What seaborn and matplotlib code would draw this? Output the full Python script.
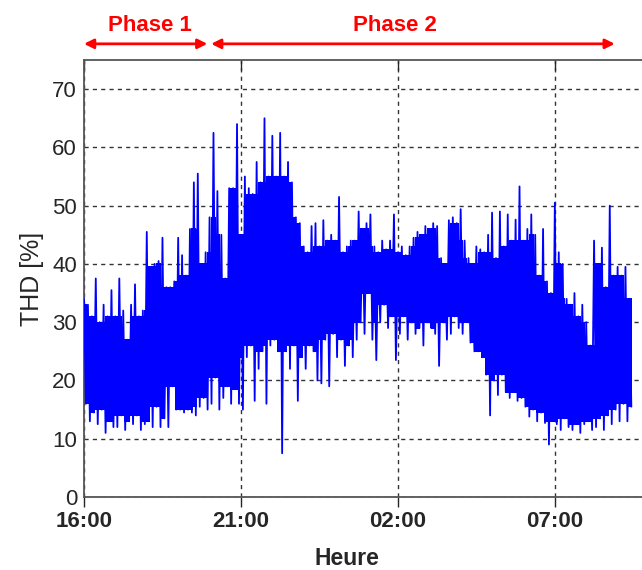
import numpy as np
import pandas as pd
import matplotlib
matplotlib.use('Agg')
import matplotlib.pyplot as plt
import seaborn as sns

# heures depuis 16:00, un relevé haut / bas tous les 7,5 min
T_DEBUT = 0.0
PAS = 0.125

thd_haut = [
    34, 33, 31, 37.5, 30, 33, 31, 35.5,
    31, 37.5, 32, 27, 33, 36.5, 31, 32,
    45.5, 39.5, 40, 40.5, 44.5, 36, 36, 37,
    44.5, 41.5, 38, 46, 54, 55.5, 40, 42,
    48, 62.5, 52.5, 45, 37.5, 53, 53, 64,
    45, 55, 53, 52, 57.5, 54, 65, 55,
    62, 55, 62.5, 55, 57.5, 54, 48, 47,
    43, 42, 46.5, 47, 43, 47.5, 44, 45,
    44, 51.5, 42, 43, 44, 44, 49, 46,
    47, 48.5, 43, 42, 44, 42.5, 44, 48.5,
    42, 43, 41.5, 43, 44.5, 45.5, 45, 46.5,
    46, 47, 46.5, 41, 40, 47.5, 48, 47,
    49.4, 44, 41, 40, 43, 42.5, 42, 45,
    48.8, 41, 49, 43, 48.5, 44, 47.6, 53.3,
    44, 46, 48.5, 45, 38, 46, 37, 35,
    50.5, 42, 40, 34, 33, 35, 31, 33,
    30, 26, 44, 40, 42.8, 36, 50, 38,
    39.5, 38, 39.5, 34,
]

thd_bas = [
    16, 13, 14.5, 12.5, 15, 11, 13, 12,
    12, 14, 11.5, 13, 12.5, 14, 11.5, 12.5,
    13, 12, 15.5, 12, 13.5, 12, 19, 15,
    15, 14.5, 15, 14.5, 14, 15.5, 17, 15,
    16, 20.5, 15, 17, 19, 16, 18.5, 16,
    15, 24, 26, 16.5, 22, 25, 16, 26,
    27, 25, 7.5, 25, 22, 26, 16.5, 24,
    22, 26, 25, 20, 19.5, 27, 19, 28,
    24, 27, 22.5, 26, 24, 27, 30, 28,
    35, 27, 23.5, 30, 33, 29, 31, 23.5,
    28, 31, 27, 30, 28, 29, 26, 30,
    29, 28, 22.5, 30, 27, 28, 31, 29,
    28, 30, 26.5, 25, 25, 24, 21, 14,
    20, 17.5, 21, 18, 17, 18, 16.5, 17,
    15.5, 13.8, 15, 13, 14.5, 12.7, 9, 13,
    12.5, 11.5, 13.5, 12, 11.5, 12.5, 11, 12.5,
    13, 11.5, 12, 13.5, 11.5, 14, 12.5, 15,
    13, 16, 13, 15.5,
]

tick_pos = [0, 5, 10, 15]
tick_labels = ['16:00', '21:00', '02:00', '07:00']

sns.set_style('white')
plt.rcParams['font.family'] = ['Liberation Sans', 'DejaVu Sans']

heures = T_DEBUT + PAS * np.arange(len(thd_haut))
haut = pd.Series(thd_haut, dtype=float)
bas = pd.Series(thd_bas, dtype=float)
x = np.column_stack([heures, heures + PAS / 2]).ravel()
y = np.column_stack([haut, bas]).ravel()
df = pd.DataFrame({'heure': x, 'thd': y})

# coeur plein : ce que les relevés voisins couvrent tous
coeur_haut = haut.rolling(3, center=True, min_periods=1).min()
coeur_bas = bas.rolling(3, center=True, min_periods=1).max()

fig = plt.figure(figsize=(6.42, 5.70), dpi=100)
ax = fig.add_axes([84 / 642, 73 / 570, 565 / 642, 437 / 570])

bleu = '#0000ff'
ax.bar(heures, coeur_haut - coeur_bas, bottom=coeur_bas, width=PAS * 1.15,
       color=bleu, lw=0, snap=False, antialiased=False, zorder=2)
# tracé en dents de scie : les pointes fines
sns.lineplot(data=df, x='heure', y='thd', estimator=None, sort=False,
             color=bleu, lw=1.3, ax=ax, zorder=3)

ax.set_xlim(0, 18)
ax.set_ylim(0, 75)
ax.set_xticks(tick_pos)
ax.set_xticklabels(tick_labels, fontweight='bold', fontsize=16)
ax.set_yticks(range(0, 71, 10))
ax.tick_params(axis='y', labelsize=16, length=3, width=1, direction='out', pad=2)
ax.tick_params(axis='x', bottom=True, top=True, length=7, width=1, direction='out', pad=3)
for t in ax.xaxis.get_major_ticks():
    t.tick2line.set_marker(3)

ax.grid(True, color='#333333', ls=(0, (3, 3)), lw=1)
ax.set_axisbelow(True)
for s in ['top', 'left', 'bottom']:
    ax.spines[s].set_color('#555555')
    ax.spines[s].set_linewidth(1.3)
ax.spines['right'].set_visible(False)

ax.set_xlabel('Heure', fontweight='bold', fontsize=16.5)
ax.xaxis.set_label_coords(0.465, -0.115)
ax.set_ylabel('THD [%]', fontsize=18, labelpad=6)

rouge = '#ff0000'
tr = ax.get_xaxis_transform()
for x0, x1, nom, xt in [(0, 3.93, 'Phase 1', 2.1), (4.05, 16.91, 'Phase 2', 9.9)]:
    ax.annotate('', xy=(x0, 1.037), xytext=(x1, 1.037), xycoords=tr, textcoords=tr,
                annotation_clip=False,
                arrowprops=dict(arrowstyle='<|-|>', color=rouge, lw=2,
                                mutation_scale=14, shrinkA=0, shrinkB=0))
    ax.text(xt, 1.078, nom, transform=tr, color=rouge, fontweight='bold',
            fontsize=16, ha='center', va='center')

fig.savefig('out.png', dpi=100)
